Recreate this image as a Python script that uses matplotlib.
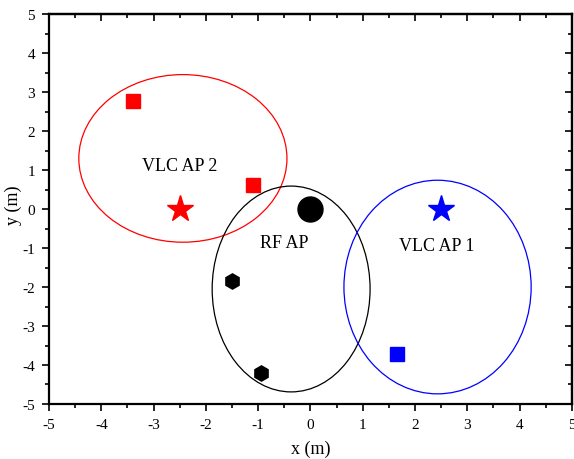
import matplotlib.pyplot as plt
from matplotlib.patches import Ellipse
from matplotlib.ticker import MultipleLocator

plt.rcParams['font.family'] = ['Liberation Serif', 'DejaVu Serif']
plt.rcParams['axes.unicode_minus'] = False

# access point positions
ap_x = [-2.5, 2.5]
ap_y = [0, 0]
ap_colors = ['red', 'blue']
rf_x = [0]
rf_y = [0]

# users
red_users_x = [-3.4, -1.1]
red_users_y = [2.78, 0.62]
blue_users_x = [1.65]
blue_users_y = [-3.72]
rf_users_x = [-1.5, -0.95]
rf_users_y = [-1.85, -4.2]

# coverage ellipses
ell_cx = [-2.44, -0.37, 2.43]
ell_cy = [1.3, -2.05, -2.0]
ell_w = [3.98, 3.02, 3.58]
ell_h = [4.3, 5.28, 5.48]
ell_c = ['red', 'black', 'blue']

labels = ['VLC AP 2', 'RF AP', 'VLC AP 1']
label_x = [-2.5, -0.51, 2.42]
label_y = [1.12, -0.87, -0.93]

fig = plt.figure(figsize=(5.74, 4.6), dpi=100)
ax = fig.add_axes([0.0854, 0.1196, 0.911, 0.8474])

for i in range(len(ell_cx)):
    ax.add_patch(Ellipse((ell_cx[i], ell_cy[i]), ell_w[i], ell_h[i],
                         fill=False, edgecolor=ell_c[i], lw=0.9))

for i in range(len(ap_x)):
    ax.plot(ap_x[i], ap_y[i], marker='*', color=ap_colors[i], ms=20, ls='none')
ax.plot(rf_x, rf_y, 'o', color='black', ms=18)
ax.plot(red_users_x, red_users_y, 's', color='red', ms=10)
ax.plot(blue_users_x, blue_users_y, 's', color='blue', ms=10)
ax.plot(rf_users_x, rf_users_y, 'h', color='black', ms=11)

for i in range(len(labels)):
    ax.text(label_x[i], label_y[i], labels[i], ha='center', va='center', fontsize=13)

ax.set_xlim(-5, 5)
ax.set_ylim(-5, 5)
ax.xaxis.set_major_locator(MultipleLocator(1))
ax.yaxis.set_major_locator(MultipleLocator(1))
ax.xaxis.set_minor_locator(MultipleLocator(0.5))
ax.yaxis.set_minor_locator(MultipleLocator(0.5))
ax.tick_params(which='both', direction='out', width=1.2, labelsize=11)
ax.tick_params(which='major', length=5, pad=5)
ax.tick_params(which='minor', length=3)

# mirrored inward ticks on top/right
secx = ax.secondary_xaxis('top')
secx.xaxis.set_major_locator(MultipleLocator(1))
secx.xaxis.set_minor_locator(MultipleLocator(0.5))
secx.tick_params(which='both', direction='in', width=1.2, labeltop=False)
secx.tick_params(which='major', length=5)
secx.tick_params(which='minor', length=3)
secy = ax.secondary_yaxis('right')
secy.yaxis.set_major_locator(MultipleLocator(1))
secy.yaxis.set_minor_locator(MultipleLocator(0.5))
secy.tick_params(which='both', direction='in', width=1.2, labelright=False)
secy.tick_params(which='major', length=5)
secy.tick_params(which='minor', length=3)

for s in ax.spines.values():
    s.set_linewidth(1.6)
secx.spines['top'].set_linewidth(1.6)
secy.spines['right'].set_linewidth(1.6)

ax.set_xlabel('x (m)', fontsize=13, va='center')
ax.xaxis.set_label_coords(0.5, -0.113)
ax.set_ylabel('y (m)', fontsize=13, va='center')
ax.yaxis.set_label_coords(-0.069, 0.513)

fig.savefig('out.png', dpi=100)
